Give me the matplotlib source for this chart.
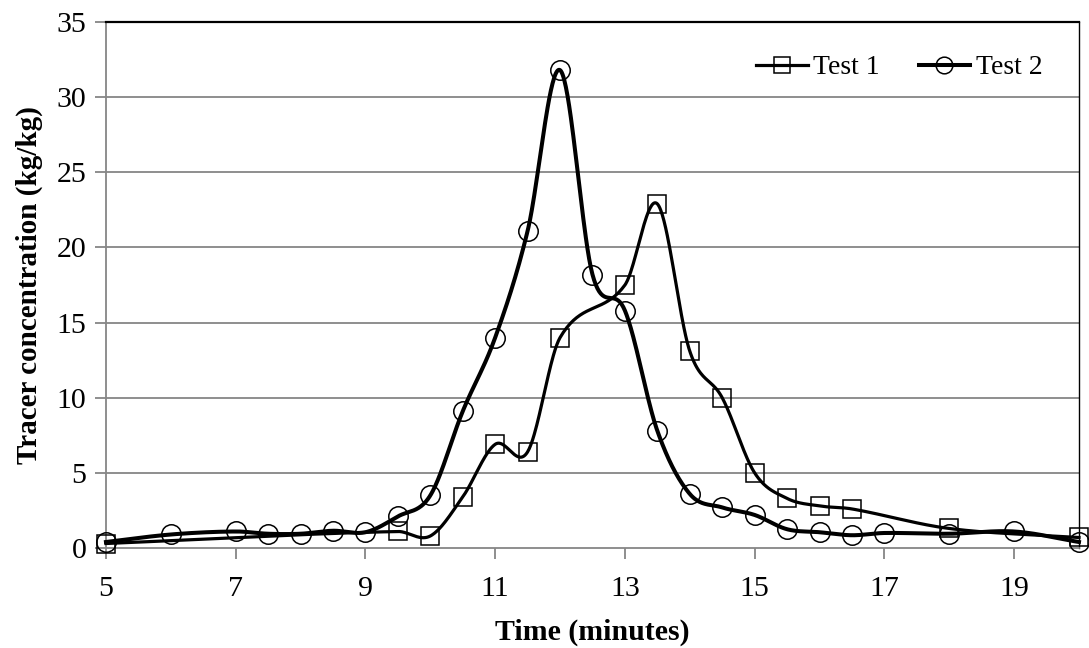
import matplotlib
matplotlib.use("Agg")
import matplotlib.pyplot as plt
import numpy as np

plt.rcParams['font.family'] = ['Liberation Serif', 'DejaVu Serif']

# Test 1 (squares)
t1_time = [5, 9.5, 10, 10.5, 11, 11.5, 12, 13, 13.5, 14, 14.5, 15, 15.5, 16, 16.5, 18, 20]
t1_conc = [0.3, 1.1, 0.8, 3.4, 6.9, 6.4, 14.0, 17.5, 22.9, 13.1, 10.0, 5.0, 3.3, 2.8, 2.6, 1.3, 0.7]

# Test 2 (circles)
t2_time = [5, 6, 7, 7.5, 8, 8.5, 9, 9.5, 10, 10.5, 11, 11.5, 12, 12.5, 13, 13.5,
           14, 14.5, 15, 15.5, 16, 16.5, 17, 18, 19, 20]
t2_conc = [0.4, 0.9, 1.1, 0.95, 0.95, 1.15, 1.05, 2.1, 3.5, 9.1, 14.0, 21.1, 31.8, 18.2,
           15.8, 7.8, 3.6, 2.7, 2.2, 1.25, 1.05, 0.85, 1.0, 0.95, 1.1, 0.4]

x_ticks = [5, 7, 9, 11, 13, 15, 17, 19]
y_ticks = [0, 5, 10, 15, 20, 25, 30, 35]


def smooth(x, y, n=40):
    # smoothed line like Excel's: cubic Bezier, tangents weighted by spacing
    p = np.column_stack([x, y]).astype(float)
    p = np.vstack([p[0], p, p[-1]])
    dx = np.diff(p[:, 0])
    t = np.linspace(0, 1, n)[:, None]
    out = []
    for i in range(1, len(p) - 2):
        a, b = p[i], p[i + 1]
        w1 = dx[i] / (dx[i - 1] + dx[i])
        w2 = dx[i] / (dx[i] + dx[i + 1])
        c1 = a + (p[i + 1] - p[i - 1]) * w1 / 3
        c2 = b - (p[i + 2] - p[i]) * w2 / 3
        seg = ((1 - t) ** 3) * a + 3 * ((1 - t) ** 2) * t * c1 + 3 * (1 - t) * t ** 2 * c2 + t ** 3 * b
        out.append(seg)
    out = np.vstack(out)
    return out[:, 0], out[:, 1]


fig = plt.figure(figsize=(10.89, 6.48), dpi=100)
ax = fig.add_axes([0.0973, 0.1543, 0.8935, 0.8117])

grid_c = '#868686'
for v in y_ticks[1:-1]:
    ax.axhline(v, color=grid_c, lw=1.3, zorder=1)

sx, sy = smooth(t1_time, t1_conc)
ax.plot(sx, sy, color='black', lw=2.3, zorder=3, clip_on=False)
ax.plot(t1_time, t1_conc, ls='none', marker='s', ms=13, mfc='none', mec='black',
        mew=1.1, zorder=4, clip_on=False)

sx, sy = smooth(t2_time, t2_conc)
ax.plot(sx, sy, color='black', lw=2.9, zorder=3, clip_on=False)
ax.plot(t2_time, t2_conc, ls='none', marker='o', ms=14, mfc='none', mec='black',
        mew=1.1, zorder=4, clip_on=False)

# legend proxies
h1, = ax.plot([], [], color='black', lw=2.3, marker='s', ms=11, mfc='none', mec='black', mew=1.1)
h2, = ax.plot([], [], color='black', lw=2.9, marker='o', ms=12, mfc='none', mec='black', mew=1.1)
ax.legend([h1, h2], ['Test 1', 'Test 2'], ncol=2, frameon=False, fontsize=20,
          loc='upper right', bbox_to_anchor=(0.988, 0.985), handlelength=1.85,
          handletextpad=0.2, columnspacing=1.4)

ax.set_xlim(5, 20)
ax.set_ylim(0, 35)
ax.set_xticks(x_ticks)
ax.set_yticks(y_ticks)
ax.tick_params(axis='both', labelsize=21.5, color=grid_c, width=1.3, length=8,
               direction='out')
ax.tick_params(axis='x', pad=12)
ax.tick_params(axis='y', pad=6)

ax.spines['left'].set_color(grid_c)
ax.spines['bottom'].set_color(grid_c)
ax.spines['left'].set_linewidth(1.3)
ax.spines['bottom'].set_linewidth(1.3)
ax.spines['top'].set_color('black')
ax.spines['top'].set_linewidth(1.6)
ax.spines['right'].set_color('black')
ax.spines['right'].set_linewidth(1.0)

ax.set_xlabel('Time (minutes)', fontsize=21.5, fontweight='bold', labelpad=12)
ax.set_ylabel('Tracer concentration (kg/kg)', fontsize=21, fontweight='bold', labelpad=10)

fig.savefig('out.png', dpi=100)
